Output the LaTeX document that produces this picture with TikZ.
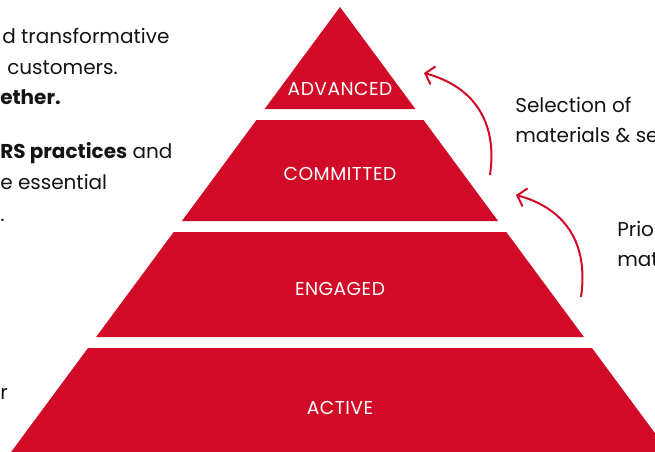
\documentclass[tikz,border=0pt]{standalone}
\usepackage{fontspec}
\setmainfont{Poppins}
\newfontfamily\tierfont[LetterSpace=2.5]{Poppins}
\usetikzlibrary{arrows.meta}
\definecolor{pyrred}{RGB}{209,11,39}
\definecolor{bodytext}{RGB}{20,20,20}

\begin{document}
\begin{tikzpicture}[x=0.75pt,y=-0.75pt,
    tier/.style={fill=pyrred},
    tierlabel/.style={text=white,font=\tierfont\fontsize{14}{16}\selectfont},
    sidetext/.style={anchor=base west,inner sep=0pt,text=bodytext,font=\fontsize{15}{18}\selectfont},
    curvearrow/.style={draw=pyrred,line width=1.5pt,-{Straight Barb[length=6pt,width=14pt]}}]
  \useasboundingbox (0,0) rectangle (655,451);
  \clip (0,0) rectangle (655,451);

  % Pyramid tiers
  \fill[tier] (340,7) -- (415.4,109) -- (264.6,109) -- cycle;
  \node[tierlabel] (advanced) at (340,89) {ADVANCED};

  \fill[tier] (256.5,120) -- (423.5,120) -- (498.1,221) -- (181.9,221) -- cycle;
  \node[tierlabel] (committed) at (340,174) {COMMITTED};

  \fill[tier] (173.7,232) -- (506.3,232) -- (583.9,337) -- (96.1,337) -- cycle;
  \node[tierlabel] (engaged) at (340,289) {ENGAGED};

  \fill[tier] (88,348) -- (592,348) -- (674.8,460) -- (5.2,460) -- cycle;
  \node[tierlabel] (active) at (340,408) {ACTIVE};

  % Left column (cut off)
  \node[sidetext] (lefta) at (2,43) {d transformative};
  \node[sidetext] (leftb) at (7,74) {customers.};
  \node[sidetext,font=\fontsize{15}{18}\selectfont\bfseries] (leftc) at (0,104) {ether.};
  \node[sidetext] (leftd) at (0,158) {\textbf{RS practices} and};
  \node[sidetext] (lefte) at (0,189) {e essential};
  \node[sidetext] (leftf) at (0,221) {.};
  \node[sidetext] (leftg) at (0,399) {r};

  % Right column (cut off)
  \node[sidetext] (righta) at (515,112) {Selection of};
  \node[sidetext] (rightb) at (515,142) {materials \& se};
  \node[sidetext] (rightc) at (617,236) {Prio};
  \node[sidetext] (rightd) at (617,266) {mat};

  % Curved arrows
  \coordinate (selstart) at (490,175);
  \coordinate (seltip) at (424,73);
  \draw[curvearrow] (selstart) .. controls (498,120) and (472,86) .. (seltip);
  \coordinate (priostart) at (581,297);
  \coordinate (priotip) at (516,195);
  \draw[curvearrow] (priostart) .. controls (589,242) and (564,208) .. (priotip);
\end{tikzpicture}
\end{document}
